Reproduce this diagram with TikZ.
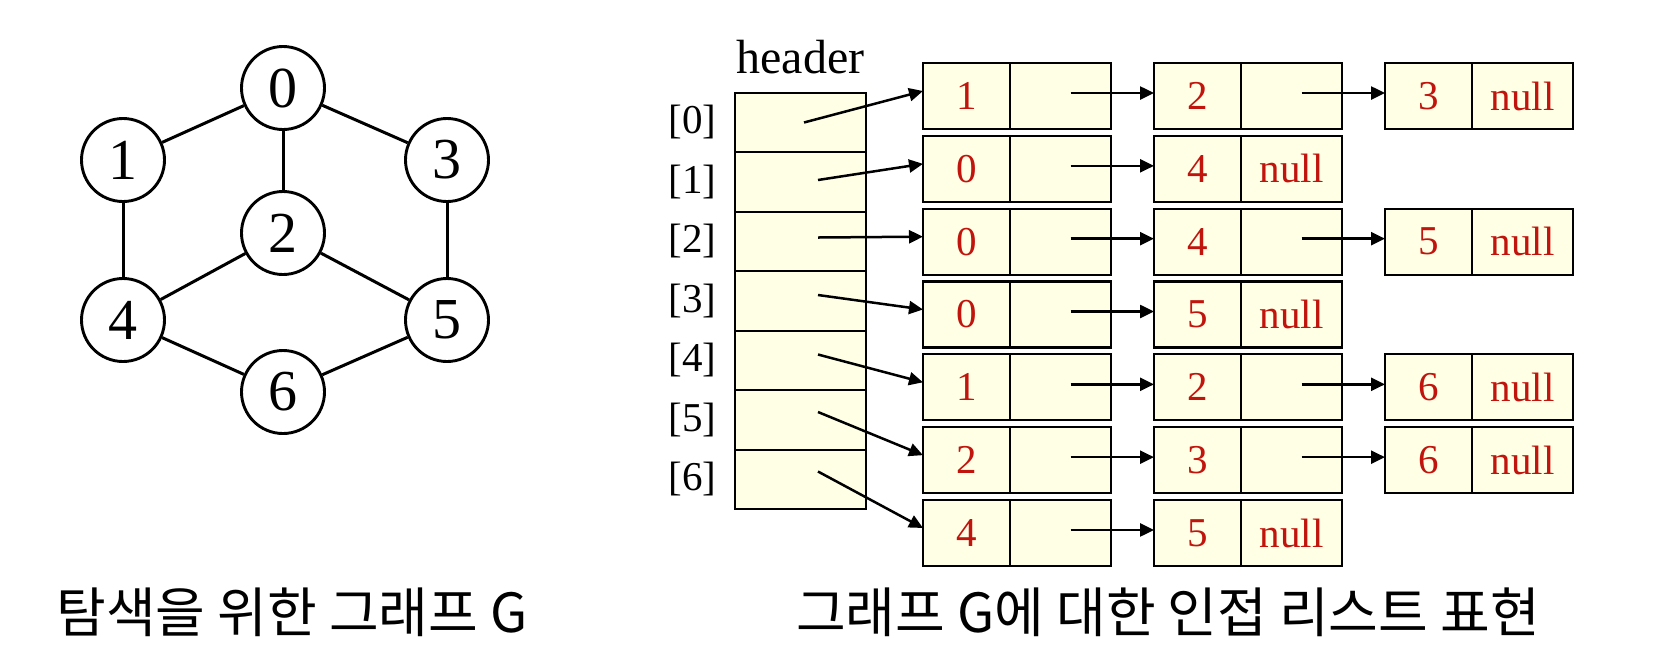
\documentclass[tikz,border=0pt]{standalone}
\usepackage{fontspec}
\setmainfont{Liberation Serif}
\newfontfamily\cjk{Noto Sans CJK KR}
\usepackage{tikz}
\usetikzlibrary{arrows.meta,positioning}
\definecolor{cellfill}{HTML}{FFFFE6}
\definecolor{valred}{HTML}{C0140C}

\begin{document}
\begin{tikzpicture}[
  x=0.5pt, y=-0.5pt,
  vertex/.style={circle, draw, line width=1.45pt, minimum size=41.5pt, inner sep=0pt, font=\fontsize{29}{32}\selectfont},
  edge/.style={line width=1.5pt},
  hcell/.style={draw, fill=cellfill, line width=1.1pt, minimum width=65.5pt, minimum height=29.75pt, inner sep=0pt, outer sep=0pt},
  keycell/.style={draw, fill=cellfill, line width=1.1pt, minimum width=43.5pt, minimum height=33pt, inner sep=0pt, outer sep=0pt, text=valred, font=\fontsize{20.5}{24}\selectfont},
  linkcell/.style={keycell, minimum width=50.5pt},
  idxlbl/.style={inner sep=0pt, font=\fontsize{20.5}{24}\selectfont},
  hdrlbl/.style={inner sep=0pt, font=\fontsize{24}{28}\selectfont},
  ptr/.style={-{Triangle[length=7pt,width=6.5pt]}, line width=1.25pt},
  caption/.style={font=\cjk\fontsize{27}{32}\selectfont}
]
  \useasboundingbox (0,0) rectangle (1660,666);
  % graph G
  \node[vertex] (v0) at (283,88)  {0};
  \node[vertex] (v1) at (123,160) {1};
  \node[vertex] (v3) at (447,160) {3};
  \node[vertex] (v2) at (283,233) {2};
  \node[vertex] (v4) at (123,320) {4};
  \node[vertex] (v5) at (447,320) {5};
  \node[vertex] (v6) at (283,392) {6};
  \foreach \a/\b in {0/1,0/3,0/2,1/4,3/5,2/4,2/5,4/6,5/6}
    \draw[edge] (v\a) -- (v\b);
  % header array
  \foreach \r in {0,...,6} {
    \node[hcell] (h\r) at (800.5,{122.5+59.5*\r}) {};
    \node[idxlbl, left=9pt of h\r] (i\r) {[\r]};
  }
  \node[hdrlbl, above=9pt of h0] (hdr) {header};
  % list nodes: row/column/value/link
  \foreach \r/\c/\v/\n in {0/0/1/{},0/1/2/{},0/2/3/null,
                           1/0/0/{},1/1/4/null,
                           2/0/0/{},2/1/4/{},2/2/5/null,
                           3/0/0/{},3/1/5/null,
                           4/0/1/{},4/1/2/{},4/2/6/null,
                           5/0/2/{},5/1/3/{},5/2/6/null,
                           6/0/4/{},6/1/5/null} {
    \node[keycell] (k\r\c) at ({966.5+231*\c},{96+72.83*\r}) {\v};
    \node[linkcell, right=0pt of k\r\c] (p\r\c) {\n};
  }
  \foreach \r/\sx/\sy in {0/1.75/0,1/8.75/1,2/8.75/2,3/8.75/3,4/8.75/3,5/8.75/4,6/8.75/4}
    \draw[ptr] ([xshift=\sx pt,yshift=\sy pt]h\r.center) -- ([yshift=2.5pt]k\r0.west);
  \foreach \r/\c in {0/0,0/1,1/0,2/0,2/1,3/0,4/0,4/1,5/0,5/1,6/0} {
    \pgfmathtruncatemacro\d{\c+1}
    \draw[ptr] ([xshift=5pt,yshift=1.5pt]p\r\c.center) -- ([yshift=1.5pt]k\r\d.west);
  }
  % captions
  \node[caption] (capG) at (292,612) {탐색을 위한 그래프 G};
  \node[caption] (capL) at (1168,612) {그래프 G에 대한 인접 리스트 표현};
\end{tikzpicture}
\end{document}
